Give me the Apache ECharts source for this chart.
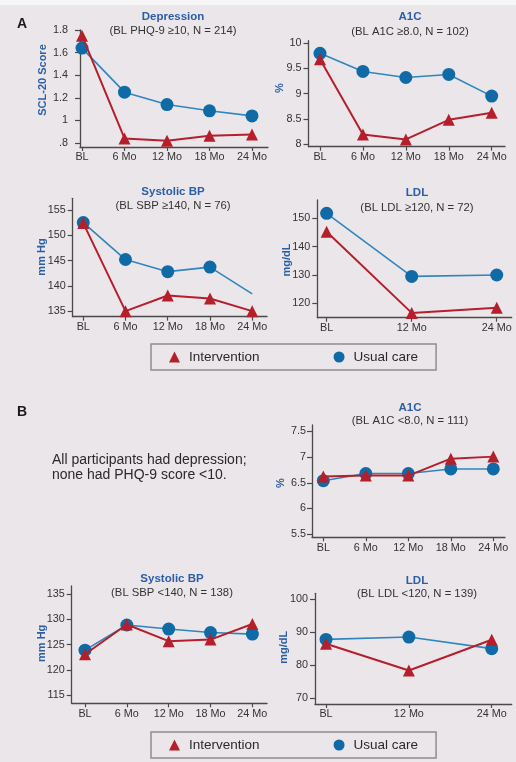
<!DOCTYPE html>
<html>
<head>
<meta charset="utf-8">
<script src="https://cdn.jsdelivr.net/npm/echarts@6/dist/echarts.min.js"></script>
<style>
html,body{margin:0;padding:0;}
#wrap{width:516px;height:762px;background:linear-gradient(#f7f6f6 0px,#f7f6f6 5px,#ebe6e9 5px,#ebe6e9 100%);}
#chart{width:516px;height:762px;}
</style>
</head>
<body>
<div id="wrap"><div id="chart"></div></div>
<script>
// ---- categories ----
const months5 = ['BL', '6 Mo', '12 Mo', '18 Mo', '24 Mo'];
const months3 = ['BL', '12 Mo', '24 Mo'];

// ---- Panel A (high baseline) ----
const depInt = [1.75, 0.84, 0.82, 0.865, 0.875];
const depUsual = [1.64, 1.25, 1.14, 1.085, 1.04];
const a1cHighInt = [9.68, 8.19, 8.09, 8.48, 8.62];
const a1cHighUsual = [9.80, 9.44, 9.32, 9.38, 8.95];
const sbpHighInt = [152.4, 135.0, 138.1, 137.5, 135.0];
const sbpHighUsual = [152.5, 145.2, 142.8, 143.7, 138.4];
const ldlHighInt = [145.3, 116.6, 118.4];
const ldlHighUsual = [151.8, 129.5, 130.0];

// ---- Panel B (low baseline) ----
const a1cLowInt = [6.62, 6.64, 6.64, 6.97, 7.01];
const a1cLowUsual = [6.54, 6.68, 6.68, 6.77, 6.77];
const sbpLowInt = [123.1, 129.0, 125.7, 126.0, 129.1];
const sbpLowUsual = [123.9, 128.9, 128.1, 127.4, 127.1];
const ldlLowInt = [86.5, 78.4, 87.7];
const ldlLowUsual = [87.8, 88.5, 85.0];

// ---- tick labels ----
const depTicks = [0.8, 1, 1.2, 1.4, 1.6, 1.8];
const a1cHighTicks = [8, 8.5, 9, 9.5, 10];
const sbpHighTicks = [135, 140, 145, 150, 155];
const ldlHighTicks = [120, 130, 140, 150];
const a1cLowTicks = [5.5, 6, 6.5, 7, 7.5];
const sbpLowTicks = [115, 120, 125, 130, 135];
const ldlLowTicks = [70, 80, 90, 100];

// ---- text ----
const titles = ['Depression', 'A1C', 'Systolic BP', 'LDL', 'A1C', 'Systolic BP', 'LDL'];
const subtitles = ['(BL PHQ-9 \u226510, N = 214)', '(BL A1C \u22658.0, N = 102)', '(BL SBP \u2265140, N = 76)',
  '(BL LDL \u2265120, N = 72)', '(BL A1C <8.0, N = 111)', '(BL SBP <140, N = 138)', '(BL LDL <120, N = 139)'];
const yNames = ['SCL-20 Score', '%', 'mm Hg', 'mg/dL', '%', 'mm Hg', 'mg/dL'];
const seriesNames = ['Intervention', 'Usual care'];

const FONT = '"Liberation Sans", Arial, Helvetica, sans-serif';
const BLUE_T = '#2b5ea5';
const BLUE_L = '#2f86bf';
const BLUE_M = '#0f6aa6';
const RED = '#b51f2c';
const AXIS = '#4a4a4a';
const LABEL = '#333333';

const panels = [
  {cats: months5, ints: depInt, usual: depUsual, ticks: depTicks, grid: [80, 30, 188, 117], ymin: 0.7646, ymax: 1.8, xmin: -0.047, xmax: 4.376, lm: 12,
    fmt: v => (Math.abs(v - 0.8) < 1e-6 ? '.8' : String(+v.toFixed(1))), title: [173, 17, 31], yname: [43, 80]},
  {cats: months5, ints: a1cHighInt, usual: a1cHighUsual, ticks: a1cHighTicks, grid: [308.5, 40.7, 196.5, 106], ymin: 7.946, ymax: 10.05, xmin: -0.268, xmax: 4.31, lm: 7,
    fmt: v => String(v), title: [410, 17, 31.5], yname: [280, 88]},
  {cats: months5, ints: sbpHighInt, usual: sbpHighUsual, ticks: sbpHighTicks, grid: [72.7, 198.3, 194.3, 118.4], ymin: 133.9, ymax: 157.3, xmin: -0.25, xmax: 4.35, lm: 7,
    fmt: v => String(v), title: [173, 192, 206], yname: [41.7, 257], lastNoSymbol: true},
  {cats: months3, ints: ldlHighInt, usual: ldlHighUsual, ticks: ldlHighTicks, grid: [317.3, 200, 194.4, 117.7], ymin: 114.9, ymax: 156.5, xmin: -0.11, xmax: 2.176, lm: 7,
    fmt: v => String(v), title: [417, 193.3, 207.7], yname: [286.7, 260]},
  {cats: months5, ints: a1cLowInt, usual: a1cLowUsual, ticks: a1cLowTicks, grid: [312, 425, 193, 112.3], ymin: 5.436, ymax: 7.627, xmin: -0.266, xmax: 4.275, lm: 6,
    fmt: v => String(v), title: [410, 408, 421], yname: [281, 483]},
  {cats: months5, ints: sbpLowInt, usual: sbpLowUsual, ticks: sbpLowTicks, grid: [71.7, 586, 195.3, 117.3], ymin: 113.35, ymax: 136.65, xmin: -0.318, xmax: 4.35, lm: 7,
    fmt: v => String(v), title: [172, 579.3, 593.3], yname: [41.7, 643.3]},
  {cats: months3, ints: ldlLowInt, usual: ldlLowUsual, ticks: ldlLowTicks, grid: [315, 593.3, 196.7, 110.7], ymin: 68.28, ymax: 101.72, xmin: -0.133, xmax: 2.241, lm: 7,
    fmt: v => String(v), title: [417, 580.7, 594.3], yname: [284.3, 647.3]}
];

const grids = [], xAxes = [], yAxes = [], series = [], graphics = [];
panels.forEach((p, k) => {
  grids.push({left: p.grid[0], top: p.grid[1], width: p.grid[2], height: p.grid[3], containLabel: false});
  const idx = p.cats.map((c, i) => i);
  xAxes.push({
    type: 'value', gridIndex: k, min: p.xmin, max: p.xmax,
    axisLine: {show: true, onZero: false, lineStyle: {color: AXIS, width: 1.3}},
    axisTick: {show: true, length: 4, inside: false, customValues: idx, lineStyle: {color: AXIS, width: 1.2}},
    axisLabel: {customValues: idx, formatter: v => p.cats[Math.round(v)], margin: 5, fontSize: 10.8, color: LABEL, fontFamily: FONT},
    splitLine: {show: false}
  });
  yAxes.push({
    type: 'value', gridIndex: k, min: p.ymin, max: p.ymax,
    axisLine: {show: true, onZero: false, lineStyle: {color: AXIS, width: 1.3}},
    axisTick: {show: true, length: 5, inside: false, customValues: p.ticks, lineStyle: {color: AXIS, width: 1.2}},
    axisLabel: {customValues: p.ticks, formatter: p.fmt, margin: p.lm, fontSize: 10.8, color: LABEL, fontFamily: FONT},
    splitLine: {show: false}
  });
  series.push({
    name: seriesNames[1], type: 'line', xAxisIndex: k, yAxisIndex: k, z: 2,
    data: p.usual.map((v, i) => (p.lastNoSymbol && i === p.usual.length - 1) ? {value: [i, v], symbol: 'none'} : [i, v]),
    symbol: 'circle', symbolSize: 13,
    lineStyle: {color: BLUE_L, width: 1.6},
    itemStyle: {color: BLUE_M},
    animation: false
  });
  series.push({
    name: seriesNames[0], type: 'line', xAxisIndex: k, yAxisIndex: k, z: 3,
    data: p.ints.map((v, i) => [i, v]),
    symbol: 'triangle', symbolSize: 12,
    lineStyle: {color: RED, width: 2},
    itemStyle: {color: RED},
    animation: false
  });
  graphics.push({type: 'text', x: p.title[0], y: p.title[1], style: {text: titles[k], align: 'center', verticalAlign: 'middle', font: 'bold 11.5px ' + FONT, fill: BLUE_T}});
  graphics.push({type: 'text', x: p.title[0], y: p.title[2], style: {text: subtitles[k], align: 'center', verticalAlign: 'middle', font: '11.3px ' + FONT, fill: LABEL}});
  graphics.push({type: 'text', x: p.yname[0], y: p.yname[1], rotation: Math.PI / 2, style: {text: yNames[k], align: 'center', verticalAlign: 'middle', font: 'bold 11px ' + FONT, fill: BLUE_T}});
});

graphics.push({type: 'text', x: 17, y: 24, style: {text: 'A', verticalAlign: 'middle', font: 'bold 14px ' + FONT, fill: '#1a1a1a'}});
graphics.push({type: 'text', x: 17, y: 412, style: {text: 'B', verticalAlign: 'middle', font: 'bold 14px ' + FONT, fill: '#1a1a1a'}});
graphics.push({type: 'text', x: 52, y: 460, style: {text: 'All participants had depression;', verticalAlign: 'middle', font: '14px ' + FONT, fill: '#2a2a2a'}});
graphics.push({type: 'text', x: 52, y: 475, style: {text: 'none had PHQ-9 score <10.', verticalAlign: 'middle', font: '14px ' + FONT, fill: '#2a2a2a'}});

function legendAt(top) {
  return {
    top: top, left: 151, orient: 'horizontal',
    data: [{name: 'Intervention', icon: 'triangle'}, {name: 'Usual care', icon: 'circle'}],
    itemWidth: 11, itemHeight: 11, itemGap: 74,
    padding: [6, 18, 6, 18],
    borderColor: '#8e8e8e', borderWidth: 1.5,
    textStyle: {fontSize: 13.5, color: '#2a2a2a', fontFamily: FONT, padding: [0, 0, 0, 4], lineHeight: 13},
    selectedMode: false
  };
}

const chart = echarts.init(document.getElementById('chart'), null, {renderer: 'canvas'});
chart.setOption({
  backgroundColor: 'transparent',
  animation: false,
  grid: grids,
  xAxis: xAxes,
  yAxis: yAxes,
  series: series,
  legend: [legendAt(344), legendAt(732)],
  graphic: graphics
});
</script>
</body>
</html>
